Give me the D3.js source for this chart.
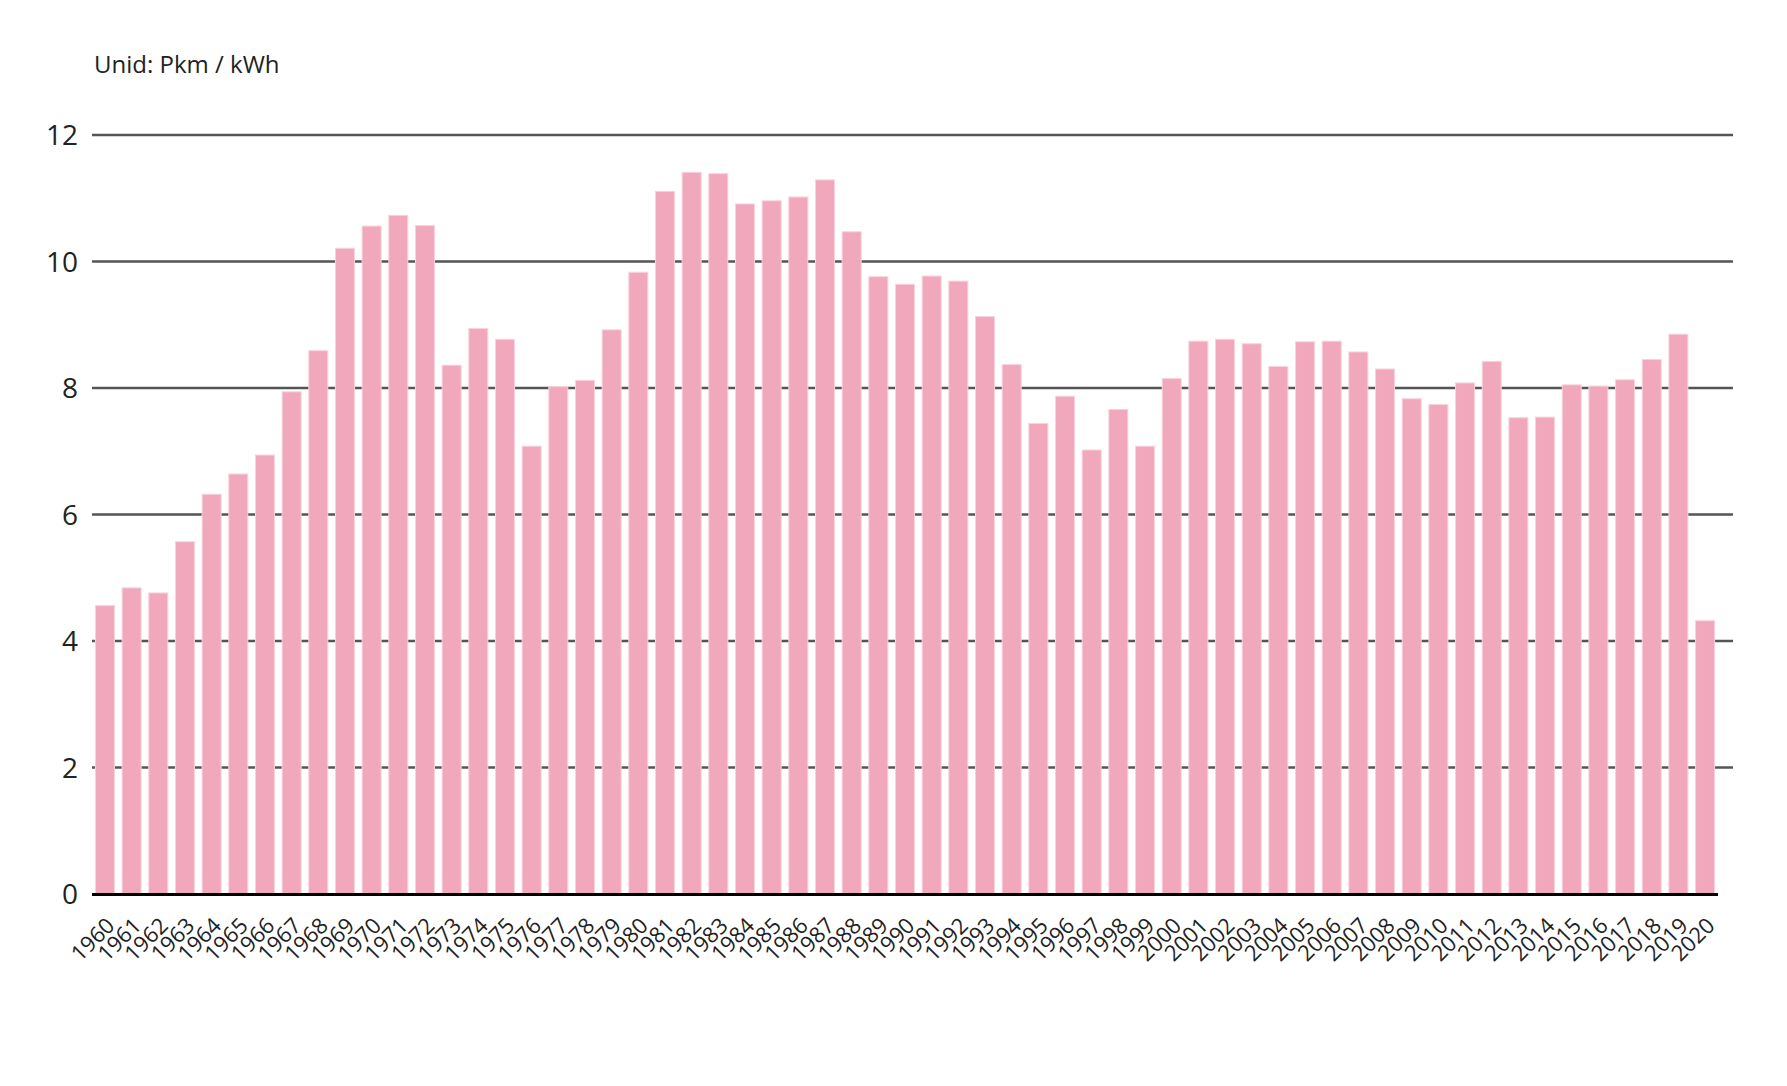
<!DOCTYPE html>
<html>
<head>
<meta charset="utf-8">
<script src="https://cdn.jsdelivr.net/npm/d3@7"></script>
<style>
  html, body { margin: 0; padding: 0; background: #ffffff; }
  svg { display: block; }
  text { font-family: "Open Sans", "Noto Sans", sans-serif; fill: #222222; }
</style>
</head>
<body>
<svg id="chart" width="1787" height="1086"></svg>
<script>
const years = ["1960","1961","1962","1963","1964","1965","1966","1967","1968","1969",
  "1970","1971","1972","1973","1974","1975","1976","1977","1978","1979",
  "1980","1981","1982","1983","1984","1985","1986","1987","1988","1989",
  "1990","1991","1992","1993","1994","1995","1996","1997","1998","1999",
  "2000","2001","2002","2003","2004","2005","2006","2007","2008","2009",
  "2010","2011","2012","2013","2014","2015","2016","2017","2018","2019","2020"];
const values = [4.56, 4.84, 4.76, 5.57, 6.32, 6.64, 6.94, 7.94, 8.59, 10.21,
  10.56, 10.73, 10.57, 8.36, 8.94, 8.77, 7.08, 8.02, 8.12, 8.92,
  9.83, 11.11, 11.41, 11.39, 10.91, 10.96, 11.02, 11.29, 10.47, 9.76,
  9.64, 9.77, 9.69, 9.13, 8.37, 7.44, 7.87, 7.02, 7.66, 7.08,
  8.15, 8.74, 8.77, 8.70, 8.34, 8.73, 8.74, 8.57, 8.30, 7.83,
  7.74, 8.08, 8.42, 7.53, 7.54, 8.05, 8.03, 8.13, 8.45, 8.85, 4.32];
const yTicks = [0, 2, 4, 6, 8, 10, 12];
const unitLabel = "Unid: Pkm / kWh";

const svg = d3.select("#chart");

const x = d3.scaleBand()
  .domain(years)
  .range([92, 1718])
  .paddingInner(0.2875)
  .paddingOuter(0.129);

const y = d3.scaleLinear().domain([0, 12]).range([894, 135]);

// unit label
svg.append("text")
  .attr("x", 94)
  .attr("y", 73)
  .attr("font-size", 24)
  .text(unitLabel);

// gridlines (excluding zero)
svg.append("g")
  .selectAll("line")
  .data(yTicks.filter(d => d !== 0))
  .join("line")
  .attr("x1", 92)
  .attr("x2", 1733)
  .attr("y1", d => y(d))
  .attr("y2", d => y(d))
  .attr("stroke", "#555555")
  .attr("stroke-width", 2.4);

// y labels
svg.append("g")
  .selectAll("text")
  .data(yTicks)
  .join("text")
  .attr("x", 78)
  .attr("y", d => y(d))
  .attr("dy", "0.36em")
  .attr("text-anchor", "end")
  .attr("font-size", 28)
  .text(d => d);

// bars
svg.append("g")
  .selectAll("rect")
  .data(values)
  .join("rect")
  .attr("x", (d, i) => x(years[i]))
  .attr("width", x.bandwidth())
  .attr("y", d => y(d))
  .attr("height", d => y(0) - y(d))
  .attr("fill", "#f1a8bc")
  .attr("stroke", "#f8d2dd")
  .attr("stroke-width", 1);

// baseline
svg.append("line")
  .attr("x1", 92)
  .attr("x2", 1718)
  .attr("y1", y(0) + 0.5)
  .attr("y2", y(0) + 0.5)
  .attr("stroke", "#000000")
  .attr("stroke-width", 3);

// x labels
svg.append("g")
  .selectAll("text")
  .data(years)
  .join("text")
  .attr("transform", d => `translate(${x(d) + x.bandwidth() / 2 + 11},${927}) rotate(-45)`)
  .attr("text-anchor", "end")
  .attr("font-size", 22)
  .text(d => d);
</script>
</body>
</html>
